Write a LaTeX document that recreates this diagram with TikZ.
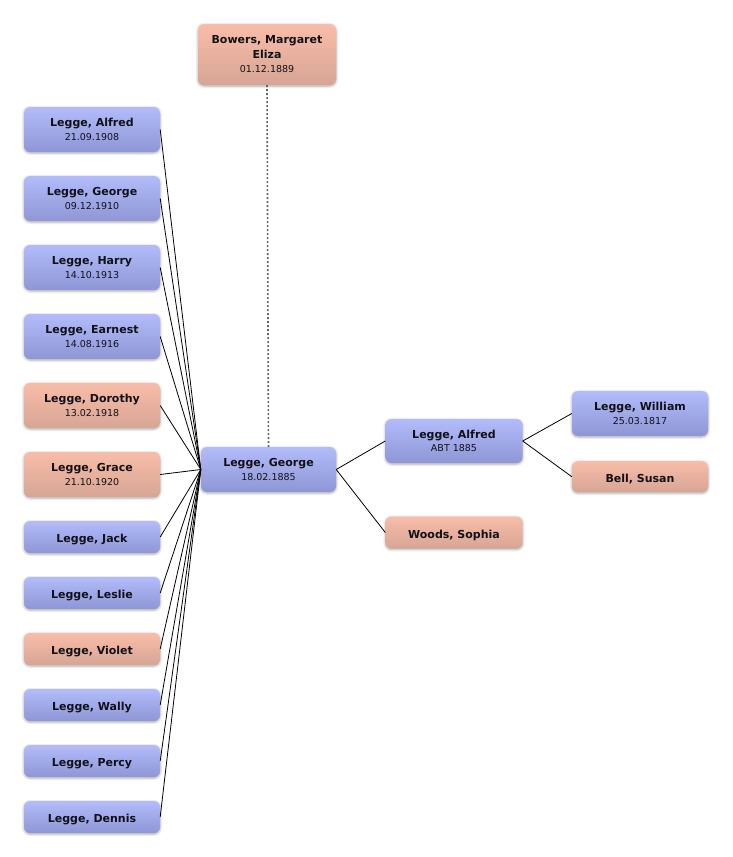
\documentclass[tikz,border=0pt]{standalone}
\usepackage{fontspec}
\setmainfont{DejaVu Sans}
\usetikzlibrary{shadows.blur}
\definecolor{btop}{HTML}{B3BCFB}
\definecolor{bbot}{HTML}{8E96D6}
\definecolor{ptop}{HTML}{F8BDA8}
\definecolor{pbot}{HTML}{D7A595}
\definecolor{txt}{HTML}{111118}
\newcommand{\nm}[1]{{\fontsize{11}{13}\selectfont\bfseries #1}}
\newcommand{\dt}[1]{{\fontsize{9.5}{13}\selectfont #1}}
\begin{document}
\begin{tikzpicture}[x=1pt,y=-1pt,
  person/.style={rectangle, rounded corners=6pt, inner sep=0pt, minimum width=136pt,
    text=txt, align=center, font=\fontsize{11}{13}\selectfont,
    blur shadow={shadow xshift=0pt, shadow yshift=-1pt, shadow blur radius=2.5pt, shadow opacity=35}},
  male/.style={person, top color=btop, bottom color=bbot},
  female/.style={person, top color=ptop, bottom color=pbot},
  two/.style={minimum height=45pt},
  one/.style={minimum height=32pt, text height=11pt, text depth=0pt},
  link/.style={draw=black, line width=0.8pt},
  spouse/.style={draw=black!60, line width=1.6pt, dash pattern=on 2pt off 2pt}
]
\useasboundingbox (0,0) rectangle (732,857);
% children
\node[male,two]   (c1)  at (92,129.5) {\nm{Legge, Alfred}\\[0.5pt]\dt{21.09.1908}};
\node[male,two]   (c2)  at (92,198.5) {\nm{Legge, George}\\[0.5pt]\dt{09.12.1910}};
\node[male,two]   (c3)  at (92,267.5) {\nm{Legge, Harry}\\[0.5pt]\dt{14.10.1913}};
\node[male,two]   (c4)  at (92,336.5) {\nm{Legge, Earnest}\\[0.5pt]\dt{14.08.1916}};
\node[female,two] (c5)  at (92,405.5) {\nm{Legge, Dorothy}\\[0.5pt]\dt{13.02.1918}};
\node[female,two] (c6)  at (92,474.5) {\nm{Legge, Grace}\\[0.5pt]\dt{21.10.1920}};
\node[male,one]   (c7)  at (92,537)   {\nm{Legge, Jack}};
\node[male,one]   (c8)  at (92,593)   {\nm{Legge, Leslie}};
\node[female,one] (c9)  at (92,649)   {\nm{Legge, Violet}};
\node[male,one]   (c10) at (92,705)   {\nm{Legge, Wally}};
\node[male,one]   (c11) at (92,761)   {\nm{Legge, Percy}};
\node[male,one]   (c12) at (92,817)   {\nm{Legge, Dennis}};
% main person
\node[male,two,minimum width=135pt] (g) at (268.5,469.5) {\nm{Legge, George}\\[0.5pt]\dt{18.02.1885}};
% spouse
\node[female,minimum width=138pt,minimum height=61pt] (w) at (267,54.5)
  {\nm{Bowers, Margaret}\\[2pt]\nm{Eliza}\\[1pt]\dt{01.12.1889}};
% parents
\node[male,minimum width=137pt,minimum height=44pt] (f) at (454,441) {\nm{Legge, Alfred}\\[0.5pt]\dt{ABT 1885}};
\node[female,minimum width=137pt,one] (m) at (454,532.5) {\nm{Woods, Sophia}};
% grandparents
\node[male,two] (gf) at (640,413.5) {\nm{Legge, William}\\[0.5pt]\dt{25.03.1817}};
\node[female,one,minimum height=31pt] (gm) at (640,476.7) {\nm{Bell, Susan}};
% connectors
\foreach \c in {c1,c2,c3,c4,c5,c6,c7,c8,c9,c10,c11,c12}
  \draw[link] (\c.east) -- (g.west);
\draw[spouse] (w.south) -- (g.north);
\draw[link] (g.east) -- (f.west);
\draw[link] (g.east) -- (m.west);
\draw[link] (f.east) -- (gf.west);
\draw[link] (f.east) -- (gm.west);
\end{tikzpicture}
\end{document}
